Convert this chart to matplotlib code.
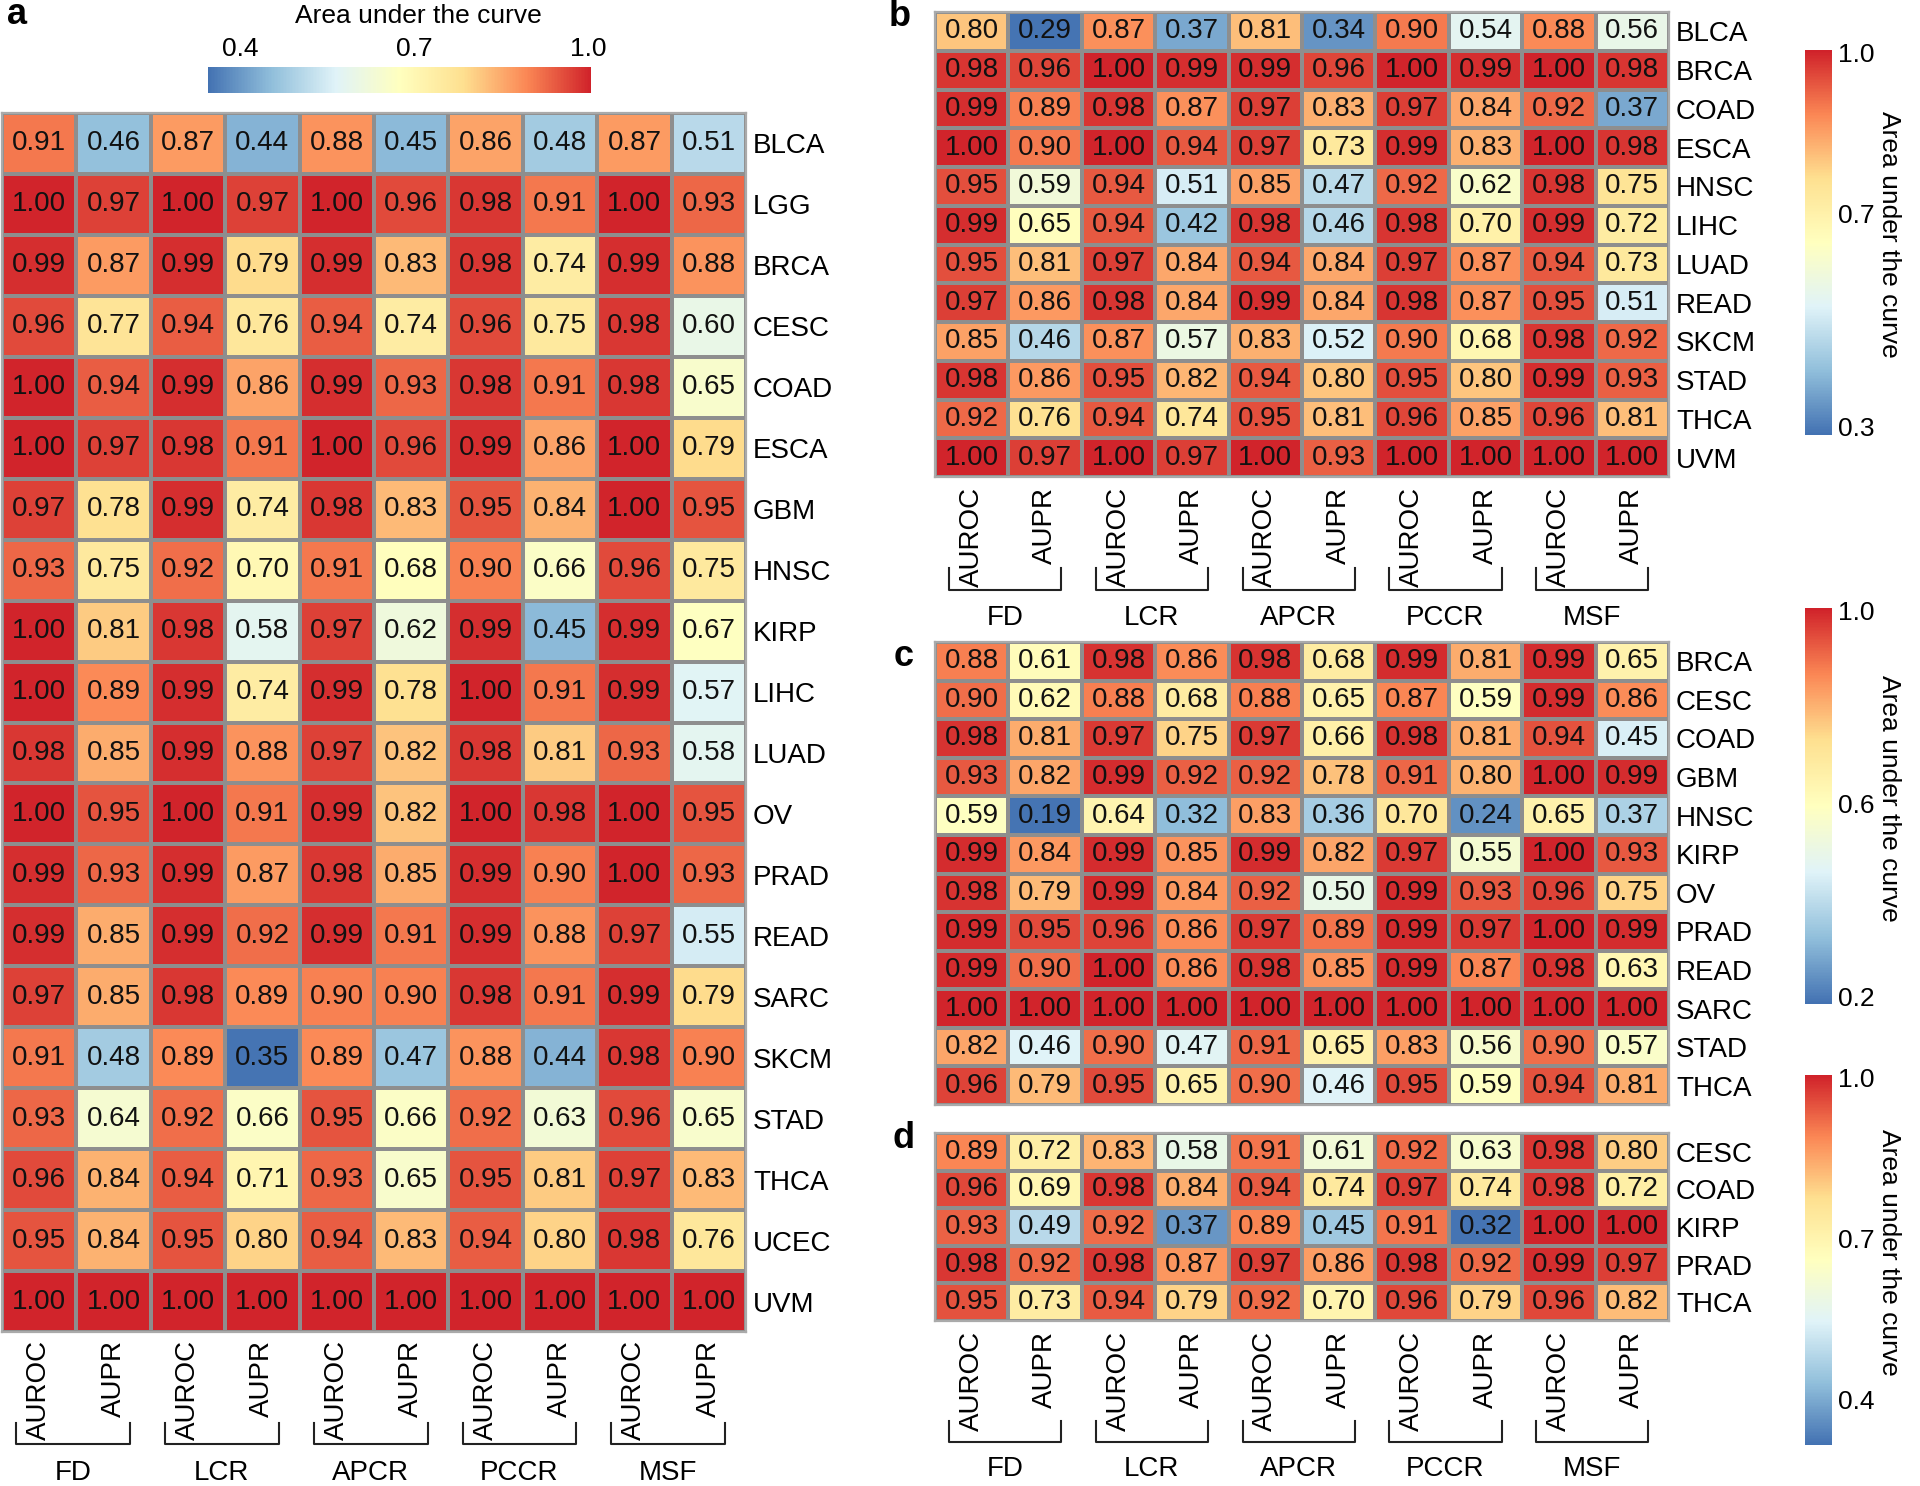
import matplotlib
matplotlib.use("Agg")
import matplotlib.pyplot as plt
import numpy as np
from matplotlib.cm import ScalarMappable
from matplotlib.colors import LinearSegmentedColormap, Normalize
from matplotlib.transforms import blended_transform_factory

plt.rcParams["font.family"] = ["Liberation Sans", "DejaVu Sans"]

# column layout shared by all four panels
methods = ["FD", "LCR", "APCR", "PCCR", "MSF"]
metrics = ["AUROC", "AUPR"] * len(methods)

rows_a = ["BLCA", "LGG", "BRCA", "CESC", "COAD", "ESCA", "GBM", "HNSC", "KIRP", "LIHC",
          "LUAD", "OV", "PRAD", "READ", "SARC", "SKCM", "STAD", "THCA", "UCEC", "UVM"]
vals_a = [
    [0.91, 0.46, 0.87, 0.44, 0.88, 0.45, 0.86, 0.48, 0.87, 0.51],
    [1.00, 0.97, 1.00, 0.97, 1.00, 0.96, 0.98, 0.91, 1.00, 0.93],
    [0.99, 0.87, 0.99, 0.79, 0.99, 0.83, 0.98, 0.74, 0.99, 0.88],
    [0.96, 0.77, 0.94, 0.76, 0.94, 0.74, 0.96, 0.75, 0.98, 0.60],
    [1.00, 0.94, 0.99, 0.86, 0.99, 0.93, 0.98, 0.91, 0.98, 0.65],
    [1.00, 0.97, 0.98, 0.91, 1.00, 0.96, 0.99, 0.86, 1.00, 0.79],
    [0.97, 0.78, 0.99, 0.74, 0.98, 0.83, 0.95, 0.84, 1.00, 0.95],
    [0.93, 0.75, 0.92, 0.70, 0.91, 0.68, 0.90, 0.66, 0.96, 0.75],
    [1.00, 0.81, 0.98, 0.58, 0.97, 0.62, 0.99, 0.45, 0.99, 0.67],
    [1.00, 0.89, 0.99, 0.74, 0.99, 0.78, 1.00, 0.91, 0.99, 0.57],
    [0.98, 0.85, 0.99, 0.88, 0.97, 0.82, 0.98, 0.81, 0.93, 0.58],
    [1.00, 0.95, 1.00, 0.91, 0.99, 0.82, 1.00, 0.98, 1.00, 0.95],
    [0.99, 0.93, 0.99, 0.87, 0.98, 0.85, 0.99, 0.90, 1.00, 0.93],
    [0.99, 0.85, 0.99, 0.92, 0.99, 0.91, 0.99, 0.88, 0.97, 0.55],
    [0.97, 0.85, 0.98, 0.89, 0.90, 0.90, 0.98, 0.91, 0.99, 0.79],
    [0.91, 0.48, 0.89, 0.35, 0.89, 0.47, 0.88, 0.44, 0.98, 0.90],
    [0.93, 0.64, 0.92, 0.66, 0.95, 0.66, 0.92, 0.63, 0.96, 0.65],
    [0.96, 0.84, 0.94, 0.71, 0.93, 0.65, 0.95, 0.81, 0.97, 0.83],
    [0.95, 0.84, 0.95, 0.80, 0.94, 0.83, 0.94, 0.80, 0.98, 0.76],
    [1.00, 1.00, 1.00, 1.00, 1.00, 1.00, 1.00, 1.00, 1.00, 1.00],
]

rows_b = ["BLCA", "BRCA", "COAD", "ESCA", "HNSC", "LIHC", "LUAD", "READ", "SKCM", "STAD", "THCA", "UVM"]
vals_b = [
    [0.80, 0.29, 0.87, 0.37, 0.81, 0.34, 0.90, 0.54, 0.88, 0.56],
    [0.98, 0.96, 1.00, 0.99, 0.99, 0.96, 1.00, 0.99, 1.00, 0.98],
    [0.99, 0.89, 0.98, 0.87, 0.97, 0.83, 0.97, 0.84, 0.92, 0.37],
    [1.00, 0.90, 1.00, 0.94, 0.97, 0.73, 0.99, 0.83, 1.00, 0.98],
    [0.95, 0.59, 0.94, 0.51, 0.85, 0.47, 0.92, 0.62, 0.98, 0.75],
    [0.99, 0.65, 0.94, 0.42, 0.98, 0.46, 0.98, 0.70, 0.99, 0.72],
    [0.95, 0.81, 0.97, 0.84, 0.94, 0.84, 0.97, 0.87, 0.94, 0.73],
    [0.97, 0.86, 0.98, 0.84, 0.99, 0.84, 0.98, 0.87, 0.95, 0.51],
    [0.85, 0.46, 0.87, 0.57, 0.83, 0.52, 0.90, 0.68, 0.98, 0.92],
    [0.98, 0.86, 0.95, 0.82, 0.94, 0.80, 0.95, 0.80, 0.99, 0.93],
    [0.92, 0.76, 0.94, 0.74, 0.95, 0.81, 0.96, 0.85, 0.96, 0.81],
    [1.00, 0.97, 1.00, 0.97, 1.00, 0.93, 1.00, 1.00, 1.00, 1.00],
]

rows_c = ["BRCA", "CESC", "COAD", "GBM", "HNSC", "KIRP", "OV", "PRAD", "READ", "SARC", "STAD", "THCA"]
vals_c = [
    [0.88, 0.61, 0.98, 0.86, 0.98, 0.68, 0.99, 0.81, 0.99, 0.65],
    [0.90, 0.62, 0.88, 0.68, 0.88, 0.65, 0.87, 0.59, 0.99, 0.86],
    [0.98, 0.81, 0.97, 0.75, 0.97, 0.66, 0.98, 0.81, 0.94, 0.45],
    [0.93, 0.82, 0.99, 0.92, 0.92, 0.78, 0.91, 0.80, 1.00, 0.99],
    [0.59, 0.19, 0.64, 0.32, 0.83, 0.36, 0.70, 0.24, 0.65, 0.37],
    [0.99, 0.84, 0.99, 0.85, 0.99, 0.82, 0.97, 0.55, 1.00, 0.93],
    [0.98, 0.79, 0.99, 0.84, 0.92, 0.50, 0.99, 0.93, 0.96, 0.75],
    [0.99, 0.95, 0.96, 0.86, 0.97, 0.89, 0.99, 0.97, 1.00, 0.99],
    [0.99, 0.90, 1.00, 0.86, 0.98, 0.85, 0.99, 0.87, 0.98, 0.63],
    [1.00, 1.00, 1.00, 1.00, 1.00, 1.00, 1.00, 1.00, 1.00, 1.00],
    [0.82, 0.46, 0.90, 0.47, 0.91, 0.65, 0.83, 0.56, 0.90, 0.57],
    [0.96, 0.79, 0.95, 0.65, 0.90, 0.46, 0.95, 0.59, 0.94, 0.81],
]

rows_d = ["CESC", "COAD", "KIRP", "PRAD", "THCA"]
vals_d = [
    [0.89, 0.72, 0.83, 0.58, 0.91, 0.61, 0.92, 0.63, 0.98, 0.80],
    [0.96, 0.69, 0.98, 0.84, 0.94, 0.74, 0.97, 0.74, 0.98, 0.72],
    [0.93, 0.49, 0.92, 0.37, 0.89, 0.45, 0.91, 0.32, 1.00, 1.00],
    [0.98, 0.92, 0.98, 0.87, 0.97, 0.86, 0.98, 0.92, 0.99, 0.97],
    [0.95, 0.73, 0.94, 0.79, 0.92, 0.70, 0.96, 0.79, 0.96, 0.82],
]

cbar_ticks_a = [0.4, 0.7, 1.0]
cbar_ticks_b = [0.3, 0.7, 1.0]
cbar_ticks_c = [0.2, 0.6, 1.0]
cbar_ticks_d = [0.4, 0.7, 1.0]

CMAP = LinearSegmentedColormap.from_list(
    "rdylbu7", ["#4372B2", "#91BFDB", "#E0F3F8", "#FFFFBF", "#FEE090", "#FB8755", "#D0222A"])
W, H = 1920, 1486
FS = 20
GRID = "#8e8e8e"


def _rect(left, top, right, bottom):
    """Pixel box (top-left origin) -> figure fraction rect."""
    return [left / W, 1 - bottom / H, (right - left) / W, (bottom - top) / H]


def _heatmap(fig, box, rows, vals, norm, cols=True, offs=(8, 91, 112, 141)):
    data = np.asarray(vals)
    n, m = data.shape
    ax = fig.add_axes(_rect(*box))
    ax.pcolormesh(data, cmap=CMAP, norm=norm, edgecolors=GRID, linewidth=1.7)
    ax.set_xlim(0, m)
    ax.set_ylim(n, 0)
    for i in range(n):
        for j in range(m):
            ax.text(j + 0.5, i + 0.5, f"{data[i, j]:.2f}", ha="center", va="center",
                    fontsize=FS, color="#111111")
    for s in ax.spines.values():
        s.set_color("#aaaaaa")
        s.set_linewidth(1.6)
    ax.yaxis.tick_right()
    ax.set_yticks(np.arange(n) + 0.5)
    ax.set_yticklabels(rows, fontsize=FS)
    ax.tick_params(axis="y", length=0, pad=5)
    if not cols:
        ax.set_xticks([])
        return ax
    hpx = box[3] - box[1]
    ax.set_xticks(np.arange(m) + 0.5)
    ax.set_xticklabels(metrics, rotation=90, fontsize=FS)
    ax.tick_params(axis="x", length=0, pad=offs[0] * 0.72)
    tr = blended_transform_factory(ax.transData, ax.transAxes)
    y_top, y_bot, y_lab = (-offs[1] / hpx, -offs[2] / hpx, -offs[3] / hpx)
    for g, name in enumerate(methods):
        x0 = 2 * g + 0.5 - 0.31
        x1 = 2 * g + 1.5 + 0.22
        ax.plot([x0, x0, x1, x1], [y_top, y_bot, y_bot, y_top], transform=tr,
                clip_on=False, color="#222222", lw=1.5)
        ax.text((x0 + x1) / 2, y_lab, name, transform=tr, ha="center", va="center",
                fontsize=FS)
    return ax


def _colorbar(fig, box, norm, ticks, horizontal=False, label_x=3.1, label_y=0.52):
    cax = fig.add_axes(_rect(*box))
    cb = fig.colorbar(ScalarMappable(norm=norm, cmap=CMAP), cax=cax,
                      orientation="horizontal" if horizontal else "vertical", ticks=ticks)
    cb.outline.set_visible(False)
    cb.set_ticklabels([f"{t:.1f}" for t in ticks])
    cax.tick_params(length=0, labelsize=FS - 1, pad=4)
    if horizontal:
        cax.xaxis.set_ticks_position("top")
        cax.text(0.55, 2.95, "Area under the curve", transform=cax.transAxes,
                 ha="center", va="center", fontsize=FS - 1)
    else:
        cax.text(label_x, label_y, "Area under the curve", transform=cax.transAxes,
                 rotation=270, ha="center", va="center", fontsize=FS - 1)
    return cax


def main():
    fig = plt.figure(figsize=(W / 100, H / 100), dpi=100)

    panels = [
        ("a", rows_a, vals_a, (2, 113, 746, 1332), (8, 91, 112, 141),
         (208, 67, 591, 93), cbar_ticks_a, True, (17, 15)),
        ("b", rows_b, vals_b, (935, 12, 1669, 477), (10, 91, 113, 141),
         (1805, 50, 1832, 435), cbar_ticks_b, False, (900, 17)),
        ("c", rows_c, vals_c, (935, 642, 1669, 1105), None,
         (1805, 608, 1832, 1004), cbar_ticks_c, False, (904, 657)),
        ("d", rows_d, vals_d, (935, 1133, 1669, 1321), (10, 100, 121, 148),
         (1805, 1075, 1832, 1445), cbar_ticks_d, False, (904, 1139)),
    ]
    for letter, rows, vals, box, offs, cbox, ticks, horiz, lpos in panels:
        vmin = float(np.min(vals)) - 0.005
        norm = Normalize(vmin=vmin, vmax=1.005)
        if offs is None:
            _heatmap(fig, box, rows, vals, norm, cols=False)
        else:
            _heatmap(fig, box, rows, vals, norm, offs=offs)
        _colorbar(fig, cbox, norm, ticks, horizontal=horiz)
        fig.text(lpos[0] / W, 1 - lpos[1] / H, letter, fontsize=26, fontweight="bold",
                 ha="center", va="center")

    fig.savefig("out.png", dpi=100)
    plt.close(fig)


if __name__ == "__main__":
    main()
